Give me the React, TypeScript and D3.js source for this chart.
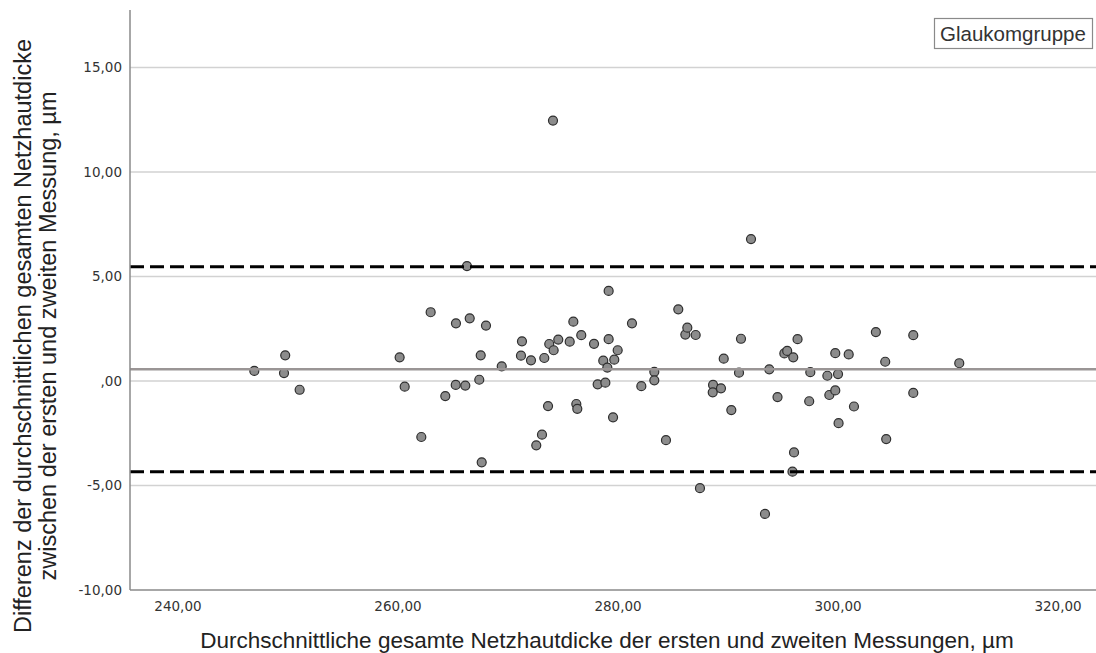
import React, { useEffect, useRef } from "react";
import * as d3 from "d3";

// Bland-Altman: mean of both measurements vs. difference
const meanVals = [
  246.94, 249.75, 249.64, 251.06, 260.15, 260.61, 262.12, 262.97, 264.3, 265.27,
  265.25, 266.12, 266.27, 266.52, 267.52, 267.39, 267.61, 268.0, 269.43, 271.27,
  271.18, 272.09, 272.57, 273.09, 273.3, 273.64, 273.75, 274.15, 274.09, 274.57,
  275.61, 275.94, 276.21, 276.3, 276.66, 277.82, 278.15, 278.66, 278.85, 279.03,
  279.15, 279.15, 279.55, 279.66, 279.97, 281.27, 282.12, 283.3, 283.3, 284.36,
  285.48, 286.12, 286.3, 287.06, 287.45, 288.64, 288.61, 289.36, 289.61, 290.3,
  291.0, 291.18, 292.09, 293.36, 293.75, 294.5, 295.12, 295.38, 295.93, 296.0,
  295.86, 296.32, 297.38, 297.48, 299.03, 299.21, 299.75, 299.75, 300.0, 300.05,
  300.97, 301.45, 303.44, 304.29, 304.38, 306.84, 306.84, 311.02,
];
const diffVals = [
  0.48, 1.23, 0.38, -0.42, 1.13, -0.27, -2.68, 3.29, -0.72, 2.76,
  -0.19, -0.22, 5.5, 3.0, 1.23, 0.06, -3.89, 2.65, 0.7, 1.9,
  1.21, 0.99, -3.08, -2.57, 1.1, -1.2, 1.77, 1.47, 12.46, 1.98,
  1.88, 2.84, -1.1, -1.33, 2.19, 1.78, -0.16, 0.97, -0.08, 0.64,
  4.31, 2.0, -1.74, 1.02, 1.47, 2.76, -0.25, 0.44, 0.03, -2.83,
  3.43, 2.22, 2.55, 2.2, -5.13, -0.19, -0.54, -0.35, 1.07, -1.39,
  0.4, 2.02, 6.79, -6.36, 0.56, -0.77, 1.32, 1.44, 1.13, -3.42,
  -4.34, 2.0, -0.97, 0.42, 0.25, -0.67, 1.33, -0.45, 0.33, -2.02,
  1.27, -1.22, 2.34, 0.92, -2.78, 2.19, -0.57, 0.85,
];

const meanDiff = 0.565;
const upperLoA = 5.47;
const lowerLoA = -4.34;

const xTicks = [240, 260, 280, 300, 320];
const yTicks = [-10, -5, 0, 5, 10, 15];
const legendLabel = "Glaukomgruppe";

const fmt = (v: number) => {
  const s = Math.abs(v).toFixed(2).replace(".", ",");
  const t = s.startsWith("0,") ? s.slice(1) : s;
  return (v < 0 ? "-" : "") + t;
};

export default function App() {
  const ref = useRef<SVGSVGElement>(null);

  useEffect(() => {
    const width = 1096;
    const height = 653;
    const left = 130, right = 1096, top = 10, bottom = 590;

    const svg = d3.select(ref.current);
    svg.selectAll("*").remove();

    const x = d3.scaleLinear().domain([235.64, 323.45]).range([left, right]);
    const y = d3.scaleLinear().domain([-10, 17.75]).range([bottom, top]);

    svg.append("rect").attr("width", width).attr("height", height).attr("fill", "#fff");

    // grid
    svg.selectAll(".grid")
      .data(yTicks.filter((t) => t > -10))
      .enter().append("line")
      .attr("x1", left).attr("x2", right)
      .attr("y1", (d) => y(d)).attr("y2", (d) => y(d))
      .attr("stroke", "#d2d2d2").attr("stroke-width", 1.5);

    // points
    const pts = meanVals.map((m, i) => ({ m, d: diffVals[i] }));
    svg.selectAll(".pt")
      .data(pts)
      .enter().append("circle")
      .attr("cx", (p) => x(p.m))
      .attr("cy", (p) => y(p.d))
      .attr("r", 4.5)
      .attr("fill", "#8c8c8c")
      .attr("stroke", "#2e2e2e")
      .attr("stroke-width", 1.2);

    // reference lines
    svg.append("line")
      .attr("x1", left).attr("x2", right)
      .attr("y1", y(meanDiff)).attr("y2", y(meanDiff))
      .attr("stroke", "#9a9595").attr("stroke-width", 2.5);
    [upperLoA, lowerLoA].forEach((v) => {
      svg.append("line")
        .attr("x1", left).attr("x2", right)
        .attr("y1", y(v)).attr("y2", y(v))
        .attr("stroke", "#000").attr("stroke-width", 3)
        .attr("stroke-dasharray", "14 6");
    });

    // axes lines
    svg.append("line")
      .attr("x1", left).attr("x2", left).attr("y1", top).attr("y2", bottom)
      .attr("stroke", "#8a8a8a").attr("stroke-width", 1.5);
    svg.append("line")
      .attr("x1", left).attr("x2", right).attr("y1", bottom).attr("y2", bottom)
      .attr("stroke", "#8a8a8a").attr("stroke-width", 1.5);

    const tickFont = "'DejaVu Sans', sans-serif";
    svg.selectAll(".ytl")
      .data(yTicks)
      .enter().append("text")
      .attr("x", left - 8)
      .attr("y", (d) => y(d) + 5)
      .attr("text-anchor", "end")
      .attr("font-family", tickFont)
      .attr("font-size", 13.5)
      .attr("fill", "#333")
      .text((d) => fmt(d));
    svg.selectAll(".xtl")
      .data(xTicks)
      .enter().append("text")
      .attr("x", (d) => x(d))
      .attr("y", bottom + 21)
      .attr("text-anchor", "middle")
      .attr("font-family", tickFont)
      .attr("font-size", 13.5)
      .attr("fill", "#333")
      .text((d) => fmt(d));

    const titleFont = "'Liberation Sans', Arial, sans-serif";
    svg.append("text")
      .attr("x", 607).attr("y", 648)
      .attr("text-anchor", "middle")
      .attr("font-family", titleFont)
      .attr("font-size", 22.5)
      .attr("fill", "#222")
      .text("Durchschnittliche gesamte Netzhautdicke der ersten und zweiten Messungen, µm");

    const yt = svg.append("text")
      .attr("transform", "translate(31,336) rotate(-90)")
      .attr("text-anchor", "middle")
      .attr("font-family", titleFont)
      .attr("font-size", 23.5)
      .attr("fill", "#222");
    yt.append("tspan").attr("x", 0).attr("y", 0)
      .text("Differenz der durchschnittlichen gesamten Netzhautdicke");
    yt.append("tspan").attr("x", 0).attr("y", 25)
      .text("zwischen der ersten und zweiten Messung, µm");

    // legend
    svg.append("rect")
      .attr("x", 934.5).attr("y", 18.5).attr("width", 158).attr("height", 30)
      .attr("fill", "#fff").attr("stroke", "#8a8a8a").attr("stroke-width", 1.2);
    svg.append("text")
      .attr("x", 1013).attr("y", 40.5)
      .attr("text-anchor", "middle")
      .attr("font-family", titleFont)
      .attr("font-size", 20.5)
      .attr("fill", "#333")
      .text(legendLabel);
  }, []);

  return (
    <svg
      ref={ref}
      width={1096}
      height={653}
      style={{ position: "fixed", left: 0, top: 0, display: "block" }}
    />
  );
}
